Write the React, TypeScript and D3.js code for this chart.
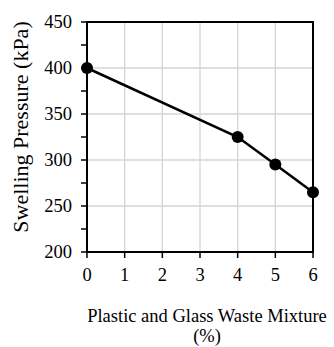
import React from 'react';
import * as d3 from 'd3';

const mixture = [0, 4, 5, 6];
const pressure = [400, 325, 295, 265];
const xTicks = [0, 1, 2, 3, 4, 5, 6];
const yTicks = [200, 250, 300, 350, 400, 450];
const yMinor = [225, 275, 325, 375, 425];

function App() {
  const W = 334, H = 347;
  const m = { left: 87, top: 22, right: 313, bottom: 252 };
  const x = d3.scaleLinear().domain([0, 6]).range([m.left, m.right]);
  const y = d3.scaleLinear().domain([200, 450]).range([m.bottom, m.top]);
  const pts = mixture.map((v, i) => [v, pressure[i]] as [number, number]);
  const line = d3.line<[number, number]>().x(d => x(d[0])).y(d => y(d[1]));
  const font = "'Liberation Serif', 'Times New Roman', serif";
  const fs = 18.5;

  return (
    <svg width={W} height={H} style={{ position: 'absolute', left: 0, top: 0 }}
      fontFamily={font}>
      <rect width={W} height={H} fill="#fff" />
      {/* grid */}
      {xTicks.slice(1, -1).map(t => (
        <line key={'gx' + t} x1={x(t)} x2={x(t)} y1={m.top} y2={m.bottom}
          stroke="#d4d4d4" strokeWidth={1.3} />
      ))}
      {yTicks.slice(1, -1).map(t => (
        <line key={'gy' + t} x1={m.left} x2={m.right} y1={y(t)} y2={y(t)}
          stroke="#d4d4d4" strokeWidth={1.3} />
      ))}
      {/* frame */}
      <rect x={m.left} y={m.top} width={m.right - m.left} height={m.bottom - m.top}
        fill="none" stroke="#000" strokeWidth={2} />
      {/* y ticks */}
      {yTicks.concat(yMinor).map(t => (
        <line key={'ty' + t} x1={m.left - 6} x2={m.left} y1={y(t)} y2={y(t)}
          stroke="#000" strokeWidth={1.5} />
      ))}
      {yTicks.map(t => (
        <text key={'ly' + t} x={m.left - 15} y={y(t)} dy="0.33em" textAnchor="end"
          fontSize={fs}>{t}</text>
      ))}
      {/* x ticks */}
      {xTicks.map(t => (
        <line key={'tx' + t} x1={x(t)} x2={x(t)} y1={m.bottom} y2={m.bottom + 6}
          stroke="#000" strokeWidth={1.5} />
      ))}
      {xTicks.map(t => (
        <text key={'lx' + t} x={x(t)} y={m.bottom + 29} textAnchor="middle"
          fontSize={fs}>{t}</text>
      ))}
      {/* series */}
      <path d={line(pts) || ''} fill="none" stroke="#000" strokeWidth={2.5} />
      {pts.map((p, i) => (
        <circle key={'p' + i} cx={x(p[0])} cy={y(p[1])} r={6} fill="#000" />
      ))}
      {/* titles */}
      <text transform={`translate(28,127) rotate(-90)`}
        textAnchor="middle" fontSize={22}>Swelling Pressure (kPa)</text>
      <text x={207} y={322} textAnchor="middle" fontSize={fs}>Plastic and Glass Waste Mixture</text>
      <text x={207} y={342} textAnchor="middle" fontSize={fs}>(%)</text>
    </svg>
  );
}

export default App;
